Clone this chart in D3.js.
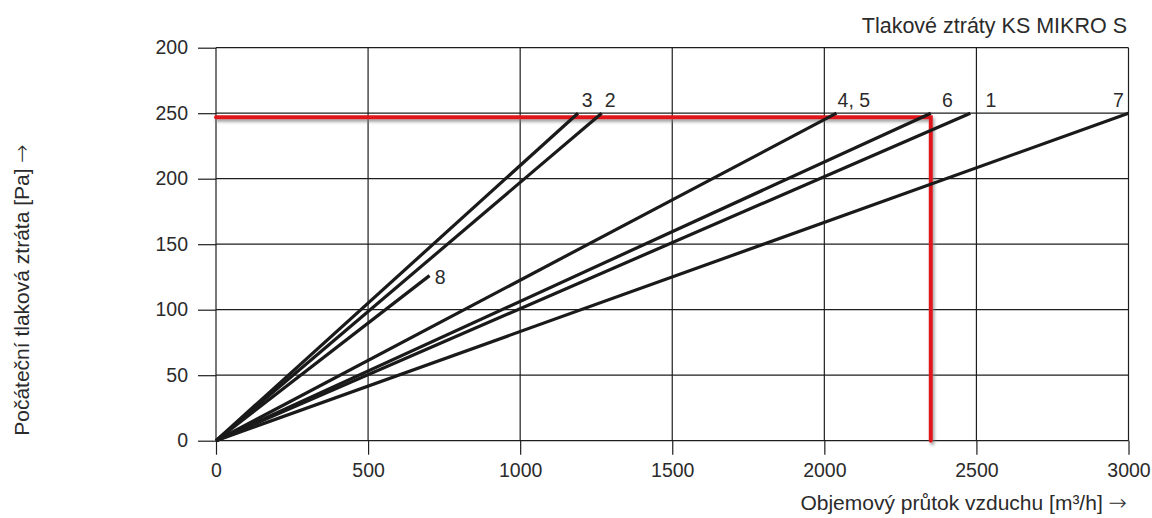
<!DOCTYPE html>
<html>
<head>
<meta charset="utf-8">
<script src="https://cdn.jsdelivr.net/npm/d3@7/dist/d3.min.js"></script>
<style>
  html, body { margin: 0; padding: 0; background: #fff; }
  svg text { font-family: "Liberation Sans", Arial, Helvetica, sans-serif; fill: #2b2b2b; }
  .arrow { font-family: "DejaVu Sans", sans-serif; font-weight: 200; }
</style>
</head>
<body>
<svg id="chart" width="1152" height="518"></svg>
<script>
// Pressure-loss curves: initial pressure loss [Pa] vs. air volume flow [m³/h]
const curveNames = ["3", "2", "8", "4, 5", "6", "1", "7"];
const curveEndFlow = [1190, 1268, 702, 2040, 2350, 2480, 3000];
const curveEndLoss = [250, 250, 126, 250, 250, 250, 250];

// curve labels, placed in data units (flow, loss)
const labelText = ["3", "2", "8", "4, 5", "6", "1", "7"];
const labelFlow = [1220, 1296, 737, 2097, 2405, 2548, 2967];
const labelLoss = [255, 255, 120, 255, 255, 255, 255];

// operating point marked in red
const opFlow = 2350;
const opLoss = 247;

// axes
const xTicks = [0, 500, 1000, 1500, 2000, 2500, 3000];
const xTickLabels = ["0", "500", "1000", "1500", "2000", "2500", "3000"];
const yTicks = [0, 50, 100, 150, 200, 250, 300];
const yTickLabels = ["0", "50", "100", "150", "200", "250", "200"];

const title = "Tlakové ztráty KS MIKRO S";
const xTitle = "Objemový průtok vzduchu [m³/h]";
const yTitle = "Počáteční tlaková ztráta [Pa]";
const arrow = "→";

const svg = d3.select("#chart");
const plotLeft = 216, plotRight = 1128.5, plotTop = 47.7, plotBottom = 440.7;

const x = d3.scaleLinear().domain([0, 3000]).range([plotLeft, plotRight]);
const y = d3.scaleLinear().domain([0, 300]).range([plotBottom, plotTop]);

svg.append("rect").attr("width", 1152).attr("height", 518).attr("fill", "#fff");

const defs = svg.append("defs");
const shadow = defs.append("filter").attr("id", "redShadow")
  .attr("x", "-5%").attr("y", "-50%").attr("width", "110%").attr("height", "200%");
shadow.append("feDropShadow").attr("dx", 1.5).attr("dy", 2.5)
  .attr("stdDeviation", 1.6).attr("flood-color", "#7a7a7a").attr("flood-opacity", 0.75);

// grid
const grid = svg.append("g").attr("stroke", "#1e1e1e").attr("stroke-width", 1.2);
grid.selectAll("line.h").data(yTicks).join("line").attr("class", "h")
  .attr("x1", plotLeft).attr("x2", plotRight)
  .attr("y1", d => y(d)).attr("y2", d => y(d));
grid.selectAll("line.v").data(xTicks).join("line").attr("class", "v")
  .attr("x1", d => x(d)).attr("x2", d => x(d))
  .attr("y1", plotTop).attr("y2", plotBottom);

// axes with outward tick stubs
const yAxis = d3.axisLeft(y).tickValues(yTicks)
  .tickFormat((d, i) => yTickLabels[i]).tickSize(18).tickPadding(10);
const gy = svg.append("g").attr("transform", `translate(${plotLeft},0)`).call(yAxis);
gy.select(".domain").remove();
gy.selectAll(".tick line").attr("stroke", "#1e1e1e").attr("stroke-width", 1.2);
gy.selectAll(".tick text").attr("font-size", 19.5).attr("fill", "#2b2b2b")
  .attr("font-family", "Liberation Sans, Arial, sans-serif");

const xAxis = d3.axisBottom(x).tickValues(xTicks)
  .tickFormat((d, i) => xTickLabels[i]).tickSize(14).tickPadding(8);
const gx = svg.append("g").attr("transform", `translate(0,${plotBottom})`).call(xAxis);
gx.select(".domain").remove();
gx.selectAll(".tick line").attr("stroke", "#1e1e1e").attr("stroke-width", 1.2);
gx.selectAll(".tick text").attr("font-size", 19.5).attr("fill", "#2b2b2b")
  .attr("font-family", "Liberation Sans, Arial, sans-serif");

// red operating-point guide
const line = d3.line().x(d => x(d[0])).y(d => y(d[1]));
svg.append("path")
  .attr("d", line([[0, opLoss], [opFlow, opLoss], [opFlow, 0]]))
  .attr("fill", "none").attr("stroke", "#e0141c").attr("stroke-width", 4)
  .attr("stroke-linecap", "round").attr("stroke-linejoin", "miter")
  .attr("filter", "url(#redShadow)");

// pressure-loss curves (linear from origin)
const curves = curveNames.map((n, i) => [[0, 0], [curveEndFlow[i], curveEndLoss[i]]]);
svg.append("g").selectAll("path").data(curves).join("path")
  .attr("d", d => line(d))
  .attr("fill", "none").attr("stroke", "#1a1a1a").attr("stroke-width", 3.2)
  .attr("stroke-linecap", "butt");

// curve labels
svg.append("g").selectAll("text").data(labelText).join("text")
  .attr("x", (d, i) => x(labelFlow[i]))
  .attr("y", (d, i) => y(labelLoss[i]))
  .attr("text-anchor", "middle").attr("font-size", 19.5)
  .text(d => d);

// titles
svg.append("text").attr("x", 1127).attr("y", 33).attr("text-anchor", "end")
  .attr("font-size", 21.5).text(title);

const xt = svg.append("text").attr("x", 1127).attr("y", 510).attr("text-anchor", "end")
  .attr("font-size", 21);
xt.append("tspan").text(xTitle + " ");
xt.append("tspan").attr("class", "arrow").attr("font-size", 22).text(arrow);

const yt = svg.append("text").attr("transform", "translate(29,290) rotate(-90)")
  .attr("text-anchor", "middle").attr("font-size", 21);
yt.append("tspan").text(yTitle + " ");
yt.append("tspan").attr("class", "arrow").attr("font-size", 22).text(arrow);
</script>
</body>
</html>
